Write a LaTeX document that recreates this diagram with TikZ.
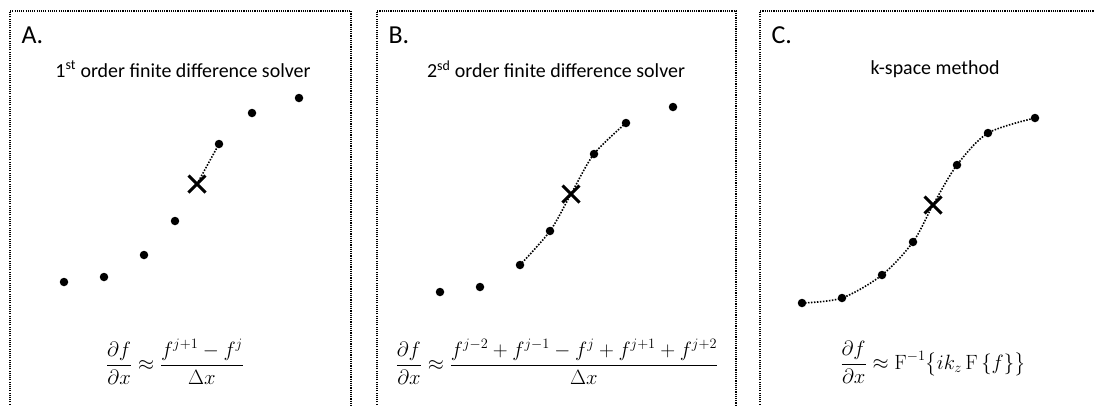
\documentclass[tikz,border=0pt]{standalone}
\usepackage{amsmath,amssymb}
\usepackage[no-math]{fontspec}
\setmainfont{Carlito}
\usetikzlibrary{shapes.misc}
\tikzset{
  panel/.style={line width=1.1bp, dash pattern=on 1.1bp off 1.1bp},
  tag/.style={font=\fontsize{26}{30}\selectfont, anchor=west},
  ttl/.style={font=\fontsize{20}{24}\selectfont},
  eq/.style={font=\fontsize{19.5}{23}\selectfont},
  pt/.style={circle, fill, inner sep=0pt, minimum size=8.5bp},
  ev/.style={cross out, draw, line width=3bp, minimum size=14bp, inner sep=0pt},
  interp/.style={line width=1.6bp, dash pattern=on 1.5bp off 1.5bp},
}

\begin{document}
\begin{tikzpicture}[x=1bp, y=-1bp]
  \useasboundingbox (0,0) rectangle (1094,405);
  % frames
  \draw[panel] (10,420) |- (351,11) -- (351,420);
  \draw[panel] (377,420) |- (736,11) -- (736,420);
  \draw[panel] (760,420) |- (1100,11);
  \node[tag] (ta) at (18,35) {A.};
  \node[tag] (tb) at (385,35) {B.};
  \node[tag] (tc) at (768,35) {C.};
  \node[ttl] (ha) at (183,69) {1\textsuperscript{st} order finite difference solver};
  \node[ttl] (hb) at (556,69) {2\textsuperscript{sd} order finite difference solver};
  \node[ttl] (hc) at (935,69) {k-space method};

  % A. first order
  \node[pt] (a1) at (64,282) {};
  \node[pt] (a2) at (104,277) {};
  \node[pt] (a3) at (144,255) {};
  \node[pt] (a4) at (175,221) {};
  \node[ev] (ax) at (197,184) {};
  \node[pt] (a5) at (219,144) {};
  \node[pt] (a6) at (252,113) {};
  \node[pt] (a7) at (299,98) {};
  \draw[interp] (ax.center) -- (a5.center);
  \node[eq] (ea) at (175,362) {$\displaystyle\frac{\partial f}{\partial x}\approx\frac{f^{j+1}-f^{j}}{\Delta x}$};

  % B. second order
  \node[pt] (b1) at (440,292) {};
  \node[pt] (b2) at (480,287) {};
  \node[pt] (b3) at (520,265) {};
  \node[pt] (b4) at (550,231) {};
  \node[ev] (bx) at (571,194) {};
  \node[pt] (b5) at (594,154) {};
  \node[pt] (b6) at (626,123) {};
  \node[pt] (b7) at (673,107) {};
  \draw[interp] plot[smooth] coordinates {(b3.center) (b4.center) (bx.center) (b5.center) (b6.center)};
  \node[eq] (eb) at (557,362) {$\displaystyle\frac{\partial f}{\partial x}\approx\frac{f^{j-2}+f^{j-1}-f^{j}+f^{j+1}+f^{j+2}}{\Delta x}$};

  % C. k-space
  \node[pt] (c1) at (802,303) {};
  \node[pt] (c2) at (842,298) {};
  \node[pt] (c3) at (882,275) {};
  \node[pt] (c4) at (913,242) {};
  \node[ev] (cx) at (933,205) {};
  \node[pt] (c5) at (957,165) {};
  \node[pt] (c6) at (988,133) {};
  \node[pt] (c7) at (1035,118) {};
  \draw[interp] plot[smooth] coordinates {(c1.center) (c2.center) (c3.center) (c4.center) (cx.center) (c5.center) (c6.center) (c7.center)};
  \node[eq] (ec) at (933,362) {$\displaystyle\frac{\partial f}{\partial x}\approx\mathrm{F}^{-1}\bigl\{ik_z\,\mathrm{F}\,\{f\}\bigr\}$};
\end{tikzpicture}
\end{document}
